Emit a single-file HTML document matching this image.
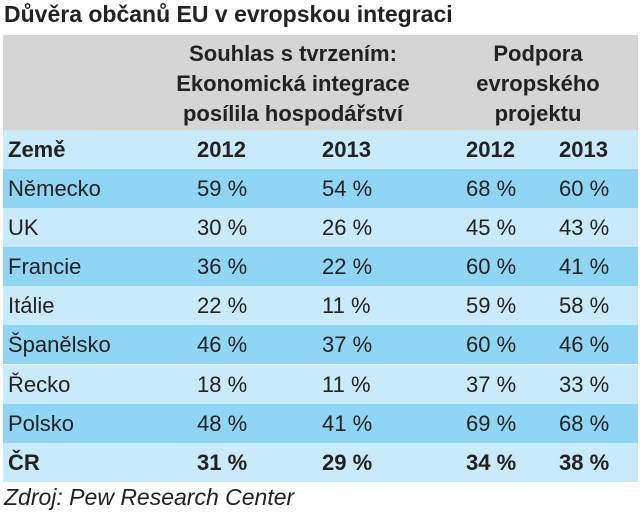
<!DOCTYPE html>
<html><head><meta charset="utf-8"><style>
body{margin:0;width:640px;height:520px;background:#fff;font-family:"Liberation Sans",sans-serif;color:#222;position:relative;overflow:hidden}
#title{position:absolute;left:4px;top:1px;font-size:23px;font-weight:bold;white-space:nowrap}
#hdr{position:absolute;left:3px;top:35px;width:635px;height:95px;background:#d5d5d5}
.g{position:absolute;top:4px;font-size:22px;font-weight:bold;text-align:center;line-height:30px;white-space:nowrap}
.row{position:absolute;left:3px;width:635px;height:39px;font-size:22px;line-height:39px}
.row span{position:absolute;white-space:nowrap}
.l{background:#c9eafa}.d{background:#8fd6f5}
.b{font-weight:bold}
#src{position:absolute;left:4px;top:484px;font-size:23px;font-style:italic;white-space:nowrap}
</style></head><body>
<div id="title">Důvěra občanů EU v evropskou integraci</div>
<div id="hdr">
<div class="g" style="left:150px;width:280px">Souhlas s tvrzením:<br>Ekonomická integrace<br>posílila hospodářství</div>
<div class="g" style="left:440px;width:190px">Podpora<br>evropského<br>projektu</div>
</div>
<div id="rows"></div>
<div id="src">Zdroj: Pew Research Center</div>
<script>
const countries=["Německo","UK","Francie","Itálie","Španělsko","Řecko","Polsko","ČR"];
const agree2012=[59,30,36,22,46,18,48,31];
const agree2013=[54,26,22,11,37,11,41,29];
const support2012=[68,45,60,59,60,37,69,34];
const support2013=[60,43,41,58,46,33,68,38];
const years=["2012","2013","2012","2013"];
const colX=[194,319,463,556];
const c=document.getElementById('rows');
function mk(top,cls,cells){
  const r=document.createElement('div');
  r.className='row '+cls;
  r.style.top=top+'px';
  
  
  cells.forEach((t,i)=>{
    const s=document.createElement('span');
    s.textContent=t;
    s.style.left=(i==0?5:colX[i-1])+'px';
    
    
    r.appendChild(s);
  });
  c.appendChild(r);
}
mk(130,'l b',["Země"].concat(years));
countries.forEach((n,i)=>{
  const last=i==countries.length-1;
  mk(169+i*39.1,(i%2==0?'d':'l')+(last?' b':''),[n,agree2012[i]+' %',agree2013[i]+' %',support2012[i]+' %',support2013[i]+' %']);
});
</script>
</body></html>
